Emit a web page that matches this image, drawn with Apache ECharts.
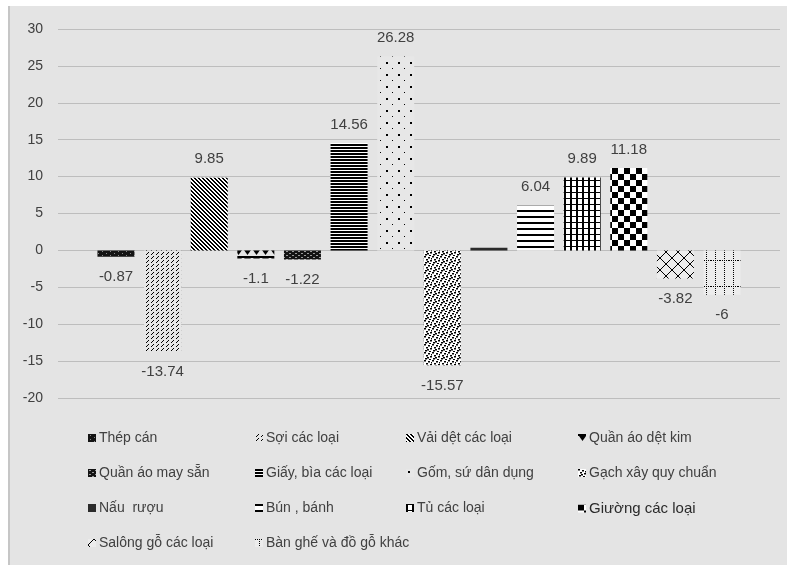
<!DOCTYPE html>
<html>
<head>
<meta charset="utf-8">
<script src="https://cdn.jsdelivr.net/npm/echarts@6/dist/echarts.min.js"></script>
<style>
html,body{margin:0;padding:0;background:#fff;width:787px;height:565px;overflow:hidden;}
#bg{position:absolute;left:8px;top:6px;width:779px;height:559px;background:#e4e4e4;border-left:2px solid #c6c6c6;}
#main{position:absolute;left:0;top:0;width:787px;height:565px;}
</style>
</head>
<body>
<div id="bg"></div>
<div id="main"></div>
<script>
// ---- data ----
const seriesNames = [
  'Thép cán', 'Sợi các loại', 'Vải dệt các loại', 'Quần áo dệt kim',
  'Quần áo may sẵn', 'Giấy, bìa các loại', 'Gốm, sứ dân dụng', 'Gạch xây quy chuẩn',
  'Nấu  rượu', 'Bún , bánh', 'Tủ các loại', 'Giường các loại',
  'Salông gỗ các loại', 'Bàn ghế và đồ gỗ khác'
];
const seriesValues = [-0.87, -13.74, 9.85, -1.1, -1.22, 14.56, 26.28, -15.57, 0.37, 6.04, 9.89, 11.18, -3.82, -6];
const showLabel = [true, true, true, true, true, true, true, true, false, true, true, true, true, true];
const yTicks = { min: -20, max: 30, interval: 5 };

// ---- patterns ----
function pat(w, h, bg, draw) {
  const c = document.createElement('canvas');
  c.width = w; c.height = h;
  const g = c.getContext('2d');
  if (bg) { g.fillStyle = bg; g.fillRect(0, 0, w, h); }
  g.fillStyle = '#000'; g.strokeStyle = '#000';
  draw(g, w, h);
  return { image: c, repeat: 'repeat' };
}
const patterns = [
  pat(8, 4, '#141414', g => { g.fillStyle = '#8a8a8a'; g.fillRect(2, 1, 1, 1); g.fillRect(6, 3, 1, 1); }),
  pat(5, 4, '#e6e6e6', g => { g.fillRect(1, 2, 1, 1); g.fillRect(2, 1, 1, 1); g.fillRect(3, 0, 1, 1); }),
  pat(4, 4, '#ffffff', (g, w, h) => { for (let y = 0; y < h; y++) for (let x = 0; x < w; x++) if (((x - y) % 4 + 4) % 4 < 2) g.fillRect(x, y, 1, 1); }),
  pat(9, 8, '#e4e4e4', g => { g.fillRect(0, 0, 9, 2); g.beginPath(); g.moveTo(1, 2); g.lineTo(8, 2); g.lineTo(4.5, 7); g.closePath(); g.fill(); }),
  pat(6, 4, '#141414', g => { g.fillStyle = '#9a9a9a'; g.fillRect(1, 1, 2, 1); g.fillRect(4, 3, 2, 1); }),
  pat(4, 3, '#ffffff', g => { g.fillRect(0, 0, 4, 2); }),
  pat(12, 12, '#e7e7e7', g => { g.fillRect(2, 2, 2, 2); g.fillRect(8, 8, 1, 1); }),
  pat(8, 8, '#ffffff', g => {
    [[0,0],[4,1],[2,3],[6,4],[1,6],[5,7],[3,5],[7,2]].forEach(p => g.fillRect(p[0], p[1], 2, 1.5));
  }),
  '#2b2b2b',
  pat(6, 6, '#ffffff', g => { g.fillRect(0, 0, 6, 2); }),
  pat(6, 6, '#ffffff', g => { g.fillRect(0, 0, 6, 1); g.fillRect(0, 0, 2, 6); }),
  pat(12, 12, '#ffffff', g => { g.fillRect(0, 0, 6, 6); g.fillRect(6, 6, 6, 6); }),
  pat(12, 12, '#ececec', g => {
    g.lineWidth = 1; g.beginPath();
    g.moveTo(0, 6); g.lineTo(6, 0); g.lineTo(12, 6); g.lineTo(6, 12); g.closePath(); g.stroke();
  }),
  pat(9, 26, '#ececec', g => {
    for (let y = 0; y < 26; y += 2) g.fillRect(4, y, 1, 1);
    for (let x = 0; x < 9; x += 2) g.fillRect(x, 0, 1, 1);
  })
];

const font = 'Liberation Sans';
const textColor = '#404040';

const series = seriesNames.map((name, i) => ({
  name: name,
  type: 'bar',
  barWidth: 37,
  barGap: '26%',
  itemStyle: { color: patterns[i] },
  label: {
    show: showLabel[i],
    position: seriesValues[i] < 0 ? 'bottom' : 'top',
    distance: seriesValues[i] < 0 ? 13 : 11,
    color: textColor,
    fontSize: 15,
    fontFamily: font
  },
  data: [seriesValues[i]]
}));

const legendCols = [[0, 4, 8, 12], [1, 5, 9, 13], [2, 6, 10], [3, 7, 11]];
const legendLefts = [88, 255, 406, 578];
const legends = legendCols.map((col, k) => ({
  orient: 'vertical',
  left: legendLefts[k],
  top: 431,
  padding: 0,
  itemWidth: 8,
  itemHeight: 8,
  itemGap: 21,
  icon: 'rect',
  selectedMode: false,
  data: col.map(i => seriesNames[i]),
  formatter: n => n === 'Giường các loại' ? '{b|' + n + '}' : n,
  textStyle: {
    color: textColor, fontSize: 14, fontFamily: font, lineHeight: 14, padding: [0, 0, 0, -2],
    rich: { b: { fontSize: 15, color: '#2a2a2a', fontFamily: font, lineHeight: 14 } }
  }
}));

const chart = echarts.init(document.getElementById('main'), null, { renderer: 'canvas' });
chart.setOption({
  backgroundColor: 'transparent',
  animation: false,
  grid: { left: 58, right: 7, top: 29, bottom: 167, containLabel: false },
  legend: legends,
  xAxis: {
    type: 'category',
    data: [''],
    axisLine: { show: false },
    axisTick: { show: false },
    axisLabel: { show: false }
  },
  yAxis: {
    type: 'value',
    min: yTicks.min,
    max: yTicks.max,
    interval: yTicks.interval,
    axisLine: { show: false },
    axisTick: { show: false },
    axisLabel: { color: textColor, fontSize: 14, fontFamily: font, margin: 15 },
    splitLine: { lineStyle: { color: '#bdbdbd', width: 1 } }
  },
  series: series
});
</script>
</body>
</html>
